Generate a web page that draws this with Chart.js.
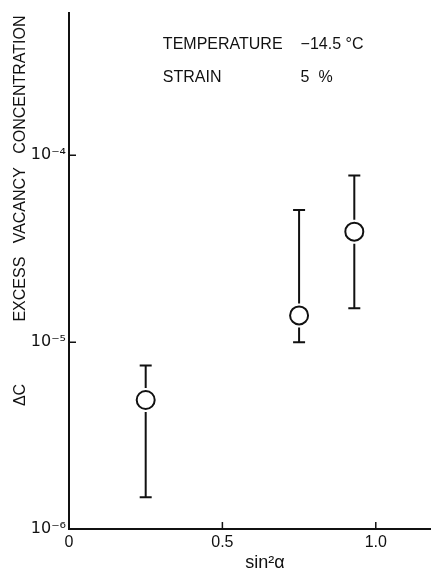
<!DOCTYPE html>
<html>
<head>
<meta charset="utf-8">
<script src="https://cdn.jsdelivr.net/npm/chart.js@4.4.1/dist/chart.umd.min.js"></script>
<style>
  html, body { margin: 0; padding: 0; background: #fff; }
  #wrap { width: 431px; height: 574px; }
</style>
</head>
<body>
<div id="wrap"><canvas id="myChart" width="431" height="574"></canvas></div>
<script>
// sin^2(alpha) and excess vacancy concentration
let xVals = [0.25, 0.75, 0.93]
let yVals = [4.9e-6, 1.39e-5, 3.9e-5]
let errLow = [1.48e-6, 1.0e-5, 1.52e-5]
let errHigh = [7.5e-6, 5.1e-5, 7.8e-5]

let xTickVals = [0, 0.5, 1.0]
let xTickLabels = ['0', '0.5', '1.0']
let yTickVals = [1e-6, 1e-5, 1e-4]
let yTickLabels = ['10\u207B\u2076', '10\u207B\u2075', '10\u207B\u2074']

// text block in upper right, in data units
let noteText = [['TEMPERATURE', '\u221214.5 \u00B0C'], ['STRAIN', '5  %']]
let noteX = [0.306, 0.755]
let noteY = [3.9e-4, 2.6e-4]

let ink = '#111'
let fontName = '"Liberation Sans", Arial, sans-serif'

let points = xVals.map((x, i) => ({ x: x, y: yVals[i] }))

// error bars, drawn under the open circles
const errorBars = {
    id: 'errorBars',
    beforeDatasetsDraw(chart) {
        const ctx = chart.ctx
        const xs = chart.scales.x
        const ys = chart.scales.y
        const gap = 12
        ctx.save()
        ctx.strokeStyle = ink
        ctx.lineWidth = 2
        xVals.forEach((v, i) => {
            let px = xs.getPixelForValue(v)
            let pc = ys.getPixelForValue(yVals[i])
            let pl = ys.getPixelForValue(errLow[i])
            let ph = ys.getPixelForValue(errHigh[i])
            ctx.beginPath()
            if (ph < pc - gap) { ctx.moveTo(px, ph); ctx.lineTo(px, pc - gap) }
            if (pl > pc + gap) { ctx.moveTo(px, pc + gap); ctx.lineTo(px, pl) }
            ctx.moveTo(px - 6, ph); ctx.lineTo(px + 6, ph)
            ctx.moveTo(px - 6, pl); ctx.lineTo(px + 6, pl)
            ctx.stroke()
        })
        ctx.restore()
    }
}

// inward tick marks + the note text
const extras = {
    id: 'extras',
    afterDraw(chart) {
        const ctx = chart.ctx
        const xs = chart.scales.x
        const ys = chart.scales.y
        const area = chart.chartArea
        ctx.save()
        ctx.strokeStyle = ink
        ctx.lineWidth = 1.5
        ctx.beginPath()
        xTickVals.forEach((v) => {
            if (v == 0) return
            let px = xs.getPixelForValue(v)
            ctx.moveTo(px, area.bottom)
            ctx.lineTo(px, area.bottom - 7)
        })
        yTickVals.forEach((v) => {
            let py = ys.getPixelForValue(v)
            if (py >= area.bottom - 1) return
            ctx.moveTo(area.left, py)
            ctx.lineTo(area.left + 7, py)
        })
        ctx.stroke()

        ctx.fillStyle = ink
        ctx.font = '16px ' + fontName
        ctx.textBaseline = 'middle'
        ctx.textAlign = 'left'
        noteText.forEach((row, r) => {
            row.forEach((t, c) => {
                ctx.fillText(t, xs.getPixelForValue(noteX[c]), ys.getPixelForValue(noteY[r]))
            })
        })
        ctx.restore()
    }
}

let yTitle = ' '.repeat(27) + '\u0394C' + ' '.repeat(14) + 'EXCESS' + ' '.repeat(3) +
    'VACANCY' + ' '.repeat(3) + 'CONCENTRATION'

let grafico = new Chart('myChart', {
    type: 'scatter',
    data: {
        datasets: [{
            label: 'excess vacancy',
            data: points,
            pointStyle: 'circle',
            pointRadius: 9,
            pointHoverRadius: 9,
            pointBorderWidth: 2,
            borderColor: ink,
            backgroundColor: '#fff',
            showLine: false
        }]
    },
    plugins: [errorBars, extras],
    options: {
        responsive: false,
        animation: false,
        layout: { autoPadding: false, padding: { top: 12, right: 0, left: 0, bottom: 0 } },
        plugins: {
            legend: { display: false },
            tooltip: { enabled: false }
        },
        scales: {
            x: {
                type: 'linear',
                min: 0,
                max: 1.18,
                afterFit: (s) => {
                    s.height = 45
                    s.paddingLeft = 0
                    s.paddingRight = 0
                },
                afterBuildTicks: (s) => { s.ticks = xTickVals.map(v => ({ value: v })) },
                grid: { display: false, drawTicks: false },
                border: { display: true, color: ink, width: 2 },
                ticks: {
                    color: ink,
                    padding: 4,
                    maxRotation: 0,
                    font: { family: fontName, size: 16 },
                    callback: (v) => {
                        let k = xTickVals.indexOf(v)
                        return k >= 0 ? xTickLabels[k] : ''
                    }
                },
                title: {
                    display: true,
                    text: '      sin\u00B2\u03B1',
                    color: ink,
                    font: { family: fontName, size: 18 },
                    padding: { top: 0, bottom: 0 }
                }
            },
            y: {
                type: 'logarithmic',
                min: 1e-6,
                max: 5.8e-4,
                afterFit: (s) => { s.width = 69 },
                afterBuildTicks: (s) => { s.ticks = yTickVals.map(v => ({ value: v })) },
                grid: { display: false, drawTicks: false },
                border: { display: true, color: ink, width: 2 },
                ticks: {
                    color: ink,
                    padding: 3,
                    font: { family: '"DejaVu Sans", sans-serif', size: 16 },
                    callback: (v) => {
                        let k = yTickVals.indexOf(v)
                        return k >= 0 ? yTickLabels[k] : ''
                    }
                },
                title: {
                    display: true,
                    text: yTitle,
                    color: ink,
                    font: { family: fontName, size: 16 },
                    padding: { top: 11, bottom: 0 }
                }
            }
        }
    }
})
</script>
</body>
</html>
